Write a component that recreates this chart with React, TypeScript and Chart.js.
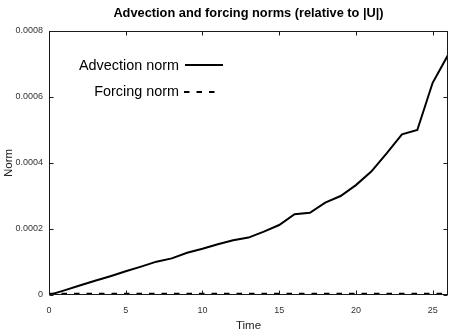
import React, { useEffect, useRef } from "react";
import { Chart, registerables } from "chart.js";

Chart.register(...registerables);

const times = [0, 1, 2, 3, 4, 5, 6, 7, 8, 9, 10, 11, 12, 13, 14, 15, 16, 17, 18, 19, 20, 21, 22, 23, 24, 25, 26];
const advectionNorm = [
  0, 0.000014, 0.000029, 0.000043, 0.000057, 0.000072, 0.000086, 0.000101, 0.000111, 0.000128,
  0.00014, 0.000154, 0.000166, 0.000174, 0.000192, 0.000212, 0.000245, 0.000249, 0.00028, 0.0003,
  0.000333, 0.000374, 0.000429, 0.000487, 0.0005, 0.000643, 0.000727,
];
const forcingNorm = [
  0.000004, 0.000004, 0.000004, 0.000004, 0.000004, 0.000004, 0.000004, 0.000004, 0.000004, 0.000004,
  0.000004, 0.000004, 0.000004, 0.000004, 0.000004, 0.000004, 0.000004, 0.000004, 0.000004, 0.000004,
  0.000004, 0.000004, 0.000004, 0.000004, 0.000004, 0.000004, 0.000004,
];
const xTicks = [0, 5, 10, 15, 20, 25];
const xTickLabels = ["0", "5", "10", "15", "20", "25"];
const yTicks = [0, 0.0002, 0.0004, 0.0006, 0.0008];
const yTickLabels = ["0", "0.0002", "0.0004", "0.0006", "0.0008"];
const chartTitle = "Advection and forcing norms (relative to |U|)";
const seriesNames = ["Advection norm", "Forcing norm"];
const xTitle = "Time";
const yTitle = "Norm";

const FONT = "'Liberation Sans', Arial, Helvetica, sans-serif";

export default function App() {
  const ref = useRef<HTMLCanvasElement | null>(null);

  useEffect(() => {
    if (!ref.current) return;

    const decor = {
      id: "decor",
      afterDatasetsDraw(chart: any) {
        const { ctx, chartArea: a } = chart;
        ctx.save();
        // legend (gnuplot style, inside plot)
        ctx.font = `14.4px ${FONT}`;
        ctx.fillStyle = "#000";
        ctx.textAlign = "right";
        ctx.textBaseline = "middle";
        const tx = a.left + 130;
        const lx0 = a.left + 136;
        const rows = [a.top + 35, a.top + 61];
        ctx.fillText(seriesNames[0], tx, rows[0]);
        ctx.fillText(seriesNames[1], tx, rows[1]);
        ctx.strokeStyle = "#000";
        ctx.lineWidth = 2;
        ctx.beginPath();
        ctx.moveTo(lx0, rows[0] - 1);
        ctx.lineTo(lx0 + 38, rows[0] - 1);
        ctx.stroke();
        ctx.setLineDash([5.5, 7]);
        ctx.beginPath();
        ctx.moveTo(lx0 - 1, rows[1]);
        ctx.lineTo(lx0 + 31, rows[1]);
        ctx.stroke();
        ctx.restore();
      },
      afterDraw(chart: any) {
        const { ctx, chartArea: a, scales } = chart;
        ctx.save();
        ctx.strokeStyle = "#1a1a1a";
        ctx.lineWidth = 1;
        const l = Math.round(a.left) + 0.5;
        const r = Math.round(a.right) - 0.5;
        const t = Math.round(a.top) + 0.5;
        const b = Math.round(a.bottom) - 0.5;
        ctx.strokeRect(l, t, r - l, b - t);
        const L = 4;
        ctx.beginPath();
        xTicks.forEach((v) => {
          const x = Math.round(scales.x.getPixelForValue(v)) + 0.5;
          ctx.moveTo(x, b);
          ctx.lineTo(x, b - L);
          ctx.moveTo(x, t);
          ctx.lineTo(x, t + L);
        });
        yTicks.forEach((v) => {
          const y = Math.round(scales.y.getPixelForValue(v)) + 0.5;
          ctx.moveTo(l, y);
          ctx.lineTo(l + L, y);
          ctx.moveTo(r, y);
          ctx.lineTo(r - L, y);
        });
        ctx.stroke();
        ctx.font = `bold 12.8px ${FONT}`;
        ctx.fillStyle = "#000";
        ctx.textAlign = "center";
        ctx.textBaseline = "middle";
        ctx.fillText(chartTitle, (a.left + a.right) / 2, 13);
        ctx.restore();
      },
    };

    const chart = new Chart(ref.current, {
      type: "line",
      data: {
        datasets: [
          {
            label: seriesNames[0],
            data: times.map((t, i) => ({ x: t, y: advectionNorm[i] })),
            borderColor: "#000",
            borderWidth: 2,
            pointRadius: 0,
            tension: 0,
            fill: false,
          },
          {
            label: seriesNames[1],
            data: times.map((t, i) => ({ x: t, y: forcingNorm[i] })),
            borderColor: "#000",
            borderWidth: 2,
            borderDash: [5.5, 7],
            pointRadius: 0,
            tension: 0,
            fill: false,
          },
        ],
      },
      options: {
        responsive: false,
        animation: false,
        layout: { padding: { top: 31, right: 2, bottom: 0, left: 0 } },
        plugins: {
          legend: { display: false },
          title: { display: false },
          tooltip: { enabled: false },
        },
        scales: {
          x: {
            type: "linear",
            min: 0,
            max: 26,
            afterBuildTicks: (s: any) => {
              s.ticks = xTicks.map((v) => ({ value: v }));
            },
            afterFit: (s: any) => {
              s.height = 38;
            },
            grid: { display: false, drawTicks: false },
            border: { display: false },
            ticks: {
              autoSkip: false,
              maxRotation: 0,
              padding: 10,
              color: "#333",
              font: { size: 9, family: FONT },
              callback: (v: any) => xTickLabels[xTicks.indexOf(Number(v))],
            },
            title: {
              display: true,
              text: xTitle,
              color: "#222",
              font: { size: 11.5, family: FONT },
              padding: { top: 0, bottom: 0 },
            },
          },
          y: {
            type: "linear",
            min: 0,
            max: 0.0008,
            afterBuildTicks: (s: any) => {
              s.ticks = yTicks.map((v) => ({ value: v }));
            },
            afterFit: (s: any) => {
              s.width = 49;
            },
            grid: { display: false, drawTicks: false },
            border: { display: false },
            ticks: {
              autoSkip: false,
              padding: 6,
              color: "#333",
              font: { size: 9, family: FONT },
              callback: (v: any) => {
                const i = yTicks.findIndex((t) => Math.abs(t - Number(v)) < 1e-12);
                return i >= 0 ? yTickLabels[i] : "";
              },
            },
            title: {
              display: true,
              text: yTitle,
              color: "#222",
              font: { size: 11.5, family: FONT },
              padding: { top: 1.5, bottom: 0 },
            },
          },
        },
      },
      plugins: [decor],
    } as any);

    return () => chart.destroy();
  }, []);

  return (
    <div style={{ position: "fixed", left: 0, top: 0, width: 450, height: 333, background: "#fff" }}>
      <canvas ref={ref} width={450} height={333} style={{ display: "block" }} />
    </div>
  );
}
